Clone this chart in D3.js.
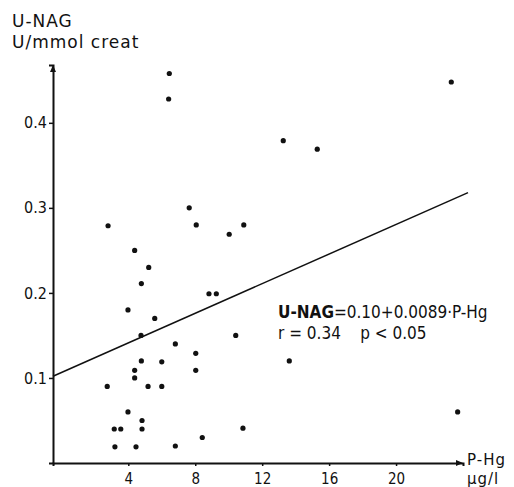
<!DOCTYPE html>
<html>
<head>
<meta charset="utf-8">
<script src="https://cdn.jsdelivr.net/npm/d3@7"></script>
<style>
  body { margin: 0; background: #fff; }
  text { font-family: "DejaVu Sans Condensed", "DejaVu Sans", sans-serif; fill: #111; }
</style>
</head>
<body>
<div id="chart"></div>
<script>
let width = 514,
    height = 487

// P-Hg (µg/l)
let phg = [6.45, 6.41, 7.64, 2.79, 8.06, 10.03, 10.90, 4.38, 5.22, 4.78, 8.82, 9.26,
  3.98, 5.58, 4.76, 10.42, 6.81, 8.03, 4.78, 6.00, 4.38, 8.03, 4.38, 2.74, 5.18, 6.00,
  3.98, 4.82, 3.16, 3.55, 4.82, 10.85, 8.42, 3.20, 4.46, 6.81, 23.30, 13.26, 15.29,
  13.62, 23.68]
// U-NAG (U/mmol creat)
let unag = [0.458, 0.428, 0.300, 0.279, 0.280, 0.269, 0.280, 0.250, 0.230, 0.211, 0.199, 0.199,
  0.180, 0.170, 0.150, 0.150, 0.140, 0.129, 0.120, 0.119, 0.109, 0.109, 0.100, 0.090, 0.090, 0.090,
  0.060, 0.050, 0.040, 0.040, 0.040, 0.041, 0.030, 0.019, 0.019, 0.020, 0.448, 0.379, 0.369,
  0.120, 0.060]

let xTicks = [4, 8, 12, 16, 20]
let yTicks = [0.1, 0.2, 0.3, 0.4]
// regression line as drawn in the figure (ends)
let regX = [-0.5, 24.3]
let regY = [0.102, 0.318]

let x = d3.scaleLinear().domain([-0.5, 24]).range([53, 463])
let y = d3.scaleLinear().domain([0, 0.468]).range([463, 65])

let svg = d3.select("#chart")
  .append("svg")
    .attr("width", width)
    .attr("height", height)

// axes
let xAxis = svg.append("g")
  .attr("transform", `translate(0,${y(0)})`)
  .call(d3.axisBottom(x).tickValues(xTicks).tickSize(3).tickPadding(7).tickFormat(d3.format("d")))
let yAxis = svg.append("g")
  .attr("transform", `translate(${x(-0.5)},0)`)
  .call(d3.axisLeft(y).tickValues(yTicks).tickSize(4).tickPadding(2).tickFormat(d3.format(".1f")))

;[xAxis, yAxis].forEach(a => {
  a.select(".domain").attr("stroke", "#111").attr("stroke-width", 2)
  a.selectAll(".tick line").attr("stroke", "#111").attr("stroke-width", 1.5)
  a.selectAll(".tick text").style("font-size", "16px").attr("fill", "#111")
})
xAxis.selectAll(".tick text").style("font-size", "15px")

// arrow heads
svg.append("path")
  .attr("d", `M${x(-0.5) - 3},${y(0.468) + 7}L${x(-0.5)},${y(0.468)}L${x(-0.5) + 3},${y(0.468) + 7}Z`)
  .attr("fill", "#111")
svg.append("path")
  .attr("d", `M${x(24) - 7},${y(0) - 3}L${x(24)},${y(0)}L${x(24) - 7},${y(0) + 3}Z`)
  .attr("fill", "#111")

// regression line
svg.append("path")
  .datum(regX.map((d, i) => [d, regY[i]]))
  .attr("d", d3.line().x(d => x(d[0])).y(d => y(d[1])))
  .attr("fill", "none")
  .attr("stroke", "#111")
  .attr("stroke-width", 1.5)

// points
svg.selectAll("circle.pt")
  .data(phg.map((d, i) => ({x: d, y: unag[i]})))
  .enter()
  .append("circle")
    .attr("class", "pt")
    .attr("cx", d => x(d.x))
    .attr("cy", d => y(d.y))
    .attr("r", 2.6)
    .attr("fill", "#111")

// axis titles
let title = (tx, ty, s, fs) => svg.append("text")
  .attr("x", tx).attr("y", ty)
  .style("font-family", "'DejaVu Sans', sans-serif")
  .style("font-size", fs + "px")
  .style("letter-spacing", "1px")
  .text(s)
title(12, 27, "U-NAG", 17)
title(12, 48, "U/mmol creat", 17)
title(467, 465, "P-Hg", 15)
title(467, 484, "µg/l", 15)

// equation
let eq = svg.append("text").attr("x", 278).attr("y", 318).style("font-size", "17px")
eq.append("tspan").text("U-NAG").style("font-weight", "bold")
eq.append("tspan").text("=0.10+0.0089·P-Hg")
svg.append("text").attr("x", 278).attr("y", 339).style("font-size", "17px")
  .attr("xml:space", "preserve").style("white-space", "pre")
  .text("r = 0.34    p < 0.05")
</script>
</body>
</html>
